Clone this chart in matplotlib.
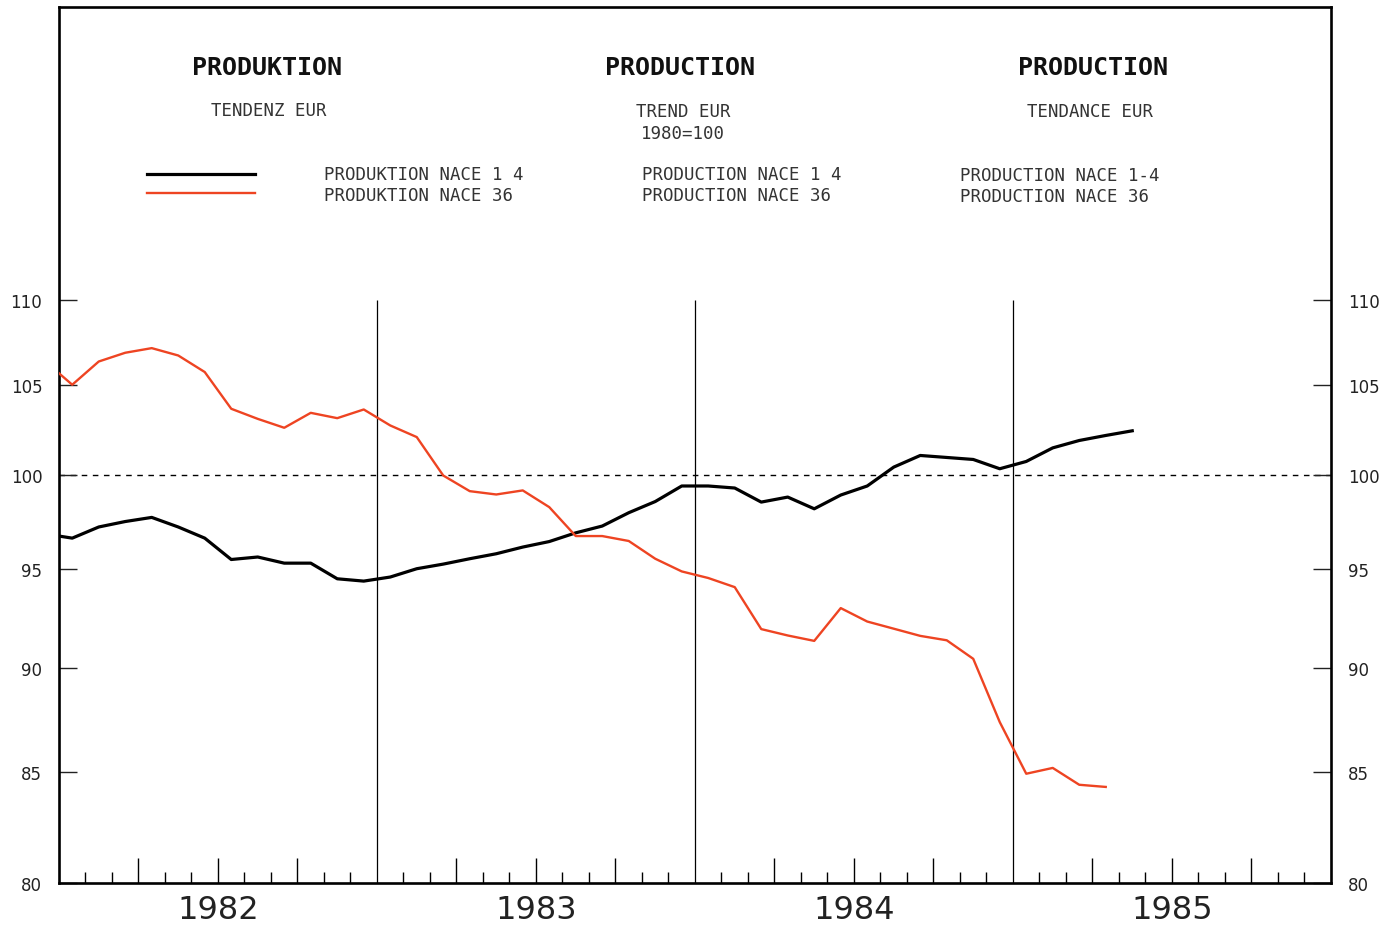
import matplotlib.pyplot as plt
import numpy as np
from matplotlib.lines import Line2D
from matplotlib.ticker import FixedLocator, NullLocator, NullFormatter
from matplotlib.transforms import blended_transform_factory

# monthly index, 0 = Jan 1982 (Dec 1981 included so the line runs to the frame)
months_nace14 = np.arange(-1, 41)
nace14 = [96.82, 96.60, 97.19, 97.48, 97.70, 97.19, 96.60, 95.48, 95.61, 95.29,
          95.29, 94.48, 94.36, 94.57, 95.00, 95.24, 95.52, 95.78, 96.13, 96.42,
          96.88, 97.24, 97.95, 98.55, 99.39, 99.39, 99.28, 98.52, 98.79, 98.16,
          98.90, 99.39, 100.42, 101.06, 100.95, 100.84, 100.33, 100.73, 101.48,
          101.89, 102.17, 102.43]

months_nace36 = np.arange(-1, 40)
nace36 = [106.36, 105.04, 106.38, 106.89, 107.16, 106.73, 105.77, 103.67, 103.10,
          102.60, 103.44, 103.14, 103.63, 102.73, 102.08, 99.96, 99.11, 98.93,
          99.15, 98.25, 96.71, 96.71, 96.45, 95.52, 94.86, 94.52, 94.05, 91.92,
          91.60, 91.33, 92.98, 92.30, 91.94, 91.58, 91.36, 90.44, 87.37, 84.94,
          85.21, 84.43, 84.33]

years = [1982, 1983, 1984, 1985]
y_ticks = [80, 85, 90, 95, 100, 105, 110]

RED = "#ee4422"


def to_year(m):
    return 1982 + (np.asarray(m) + 0.5) / 12.0


fig = plt.figure(figsize=(13.96, 9.28), dpi=100)
ax = fig.add_axes([0.04226, 0.0469, 0.91117, 0.9445])

ax.plot(to_year(months_nace14), nace14, color="black", lw=2.3, zorder=3)
ax.plot(to_year(months_nace36), nace36, color=RED, lw=1.7, zorder=3)

ax.set_yscale("log")
ax.set_ylim(80, 129.1)
ax.set_xlim(1982, 1986)

# year boundaries and base line
ax.vlines(years[1:], 80, 110, color="black", lw=0.9, zorder=2)
ax.axhline(100, color="black", lw=1.0, ls=(0, (4, 4)), zorder=1)

# y axis, both sides
ax.yaxis.set_major_locator(FixedLocator(y_ticks))
ax.yaxis.set_minor_locator(NullLocator())
ax.yaxis.set_minor_formatter(NullFormatter())
ax.set_yticklabels([str(v) for v in y_ticks])
ax.tick_params(axis="y", which="major", direction="in", length=13, width=1.0,
               left=True, right=True, labelleft=True, labelright=True,
               labelsize=12, pad=12, colors="#222222")

# x axis: month ticks, longer quarter ticks
month_edges = [1982 + k / 12 for k in range(1, 48) if k % 12 != 0]
quarters = [t for k, t in zip([k for k in range(1, 48) if k % 12 != 0], month_edges) if k % 3 == 0]
months_only = [t for t in month_edges if t not in quarters]
ax.xaxis.set_major_locator(FixedLocator(quarters))
ax.xaxis.set_minor_locator(FixedLocator(months_only))
ax.tick_params(axis="x", which="major", direction="in", length=18, width=1.0,
               labelbottom=False)
ax.tick_params(axis="x", which="minor", direction="in", length=8, width=1.0)

trans = blended_transform_factory(ax.transData, ax.transAxes)
for yr in years:
    ax.text(yr + 0.5, -0.012, str(yr), transform=trans, ha="center", va="top",
            fontsize=23, color="#222222")

for sp in ax.spines.values():
    sp.set_linewidth(1.9)

# header texts
W, H = 1396, 928


def ftext(x, y, s, **kw):
    fig.text(x / W, 1 - y / H, s, **kw)


mono = "DejaVu Sans Mono"
for x, s in [(267, "PRODUKTION"), (680, "PRODUCTION"), (1093, "PRODUCTION")]:
    ftext(x, 68, s, ha="center", va="center", family=mono, fontsize=18,
          weight="bold", color="#111111")

sub = dict(va="center", family=mono, fontsize=12.5, color="#333333")
ftext(269, 111, "TENDENZ EUR", ha="center", **sub)
ftext(683, 112, "TREND EUR", ha="center", **sub)
ftext(683, 134, "1980=100", ha="center", **sub)
ftext(1090, 112, "TENDANCE EUR", ha="center", **sub)

ftext(324, 175, "PRODUKTION NACE 1 4", ha="left", **sub)
ftext(324, 196, "PRODUKTION NACE 36", ha="left", **sub)
ftext(642, 175, "PRODUCTION NACE 1 4", ha="left", **sub)
ftext(642, 196, "PRODUCTION NACE 36", ha="left", **sub)
ftext(960, 176, "PRODUCTION NACE 1-4", ha="left", **sub)
ftext(960, 197, "PRODUCTION NACE 36", ha="left", **sub)

fig.add_artist(Line2D([147 / W, 255 / W], [1 - 175 / H, 1 - 175 / H],
                      color="black", lw=2.3))
fig.add_artist(Line2D([147 / W, 255 / W], [1 - 194 / H, 1 - 194 / H],
                      color=RED, lw=1.7))

fig.savefig("out.png", dpi=100)
